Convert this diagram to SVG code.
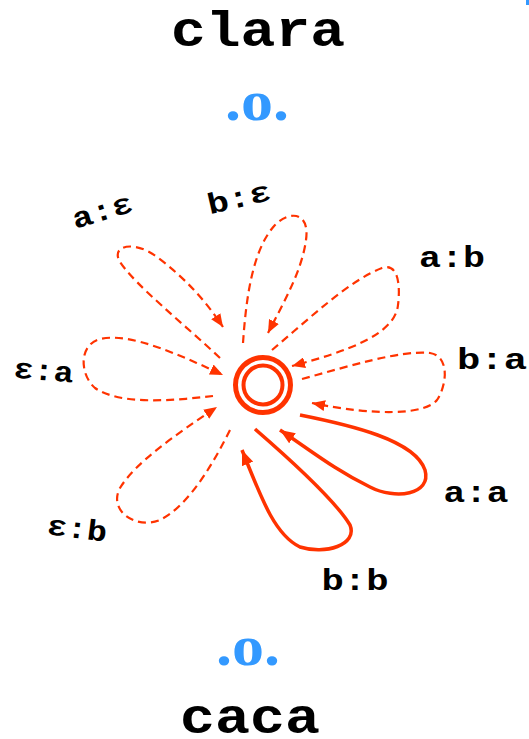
<svg xmlns="http://www.w3.org/2000/svg" width="529" height="739" viewBox="0 0 529 739">
  <style>
    .word { font-family: "Liberation Mono", "DejaVu Sans Mono", monospace; font-weight: bold; font-size: 50px; fill: #000; text-anchor: middle; }
    .op { font-family: "Liberation Serif", "DejaVu Serif", serif; font-weight: bold; font-size: 56px; fill: #3399ff; text-anchor: middle; }
    .lbl { font-family: "Liberation Mono", "DejaVu Sans Mono", monospace; font-weight: bold; font-size: 29px; fill: #000; text-anchor: middle; }
    .dash { fill: none; stroke: #ff3300; stroke-width: 2.2; stroke-dasharray: 8 5; marker-end: url(#arrow); }
    .solid { fill: none; stroke: #ff3300; stroke-width: 3.5; marker-end: url(#arrowBig); }
    .ring { fill: none; stroke: #ff3300; }
  </style>
  <defs>
    <marker id="arrow" markerUnits="userSpaceOnUse" markerWidth="13" markerHeight="11" refX="13" refY="5.5" orient="auto">
      <path d="M0,0 L13,5.5 L0,11 z" fill="#ff3300" stroke="none"/>
    </marker>
    <marker id="arrowBig" markerUnits="userSpaceOnUse" markerWidth="15" markerHeight="12" refX="15" refY="6" orient="auto">
      <path d="M0,0 L15,6 L0,12 z" fill="#ff3300" stroke="none"/>
    </marker>
  </defs>
  <rect x="0" y="0" width="529" height="739" fill="#ffffff"/>
  <rect x="526" y="0" width="3" height="5" fill="#3399ff"/>

  <g id="top-word">
    <text class="word" x="258" y="46" textLength="174" lengthAdjust="spacingAndGlyphs">clara</text>
  </g>
  <g id="top-op">
    <text class="op" x="257" y="120" textLength="64" lengthAdjust="spacingAndGlyphs">.o.</text>
  </g>

  <g id="connectors">
    <path id="e-a-eps" class="dash" d="M220,358 C185,325 135,285 120,262 C110,245 135,240 157,257 C185,278 205,300 223,327"/>
    <path id="e-b-eps" class="dash" d="M243,343 C246,300 252,250 275,225 C290,210 310,212 306,240 C302,270 285,300 268,333"/>
    <path id="e-a-b" class="dash" d="M272,350 C310,318 350,280 382,268 C400,262 400,290 398,305 C395,335 345,352 292,366"/>
    <path id="e-b-a" class="dash" d="M302,379 C350,366 400,350 430,353 C450,356 447,385 437,400 C425,415 375,416 312,403"/>
    <path id="e-eps-a" class="dash" d="M213,396 C170,401 120,405 95,388 C80,375 78,345 100,339 C130,332 180,355 223,375"/>
    <path id="e-eps-b" class="dash" d="M230,430 C215,460 190,505 160,520 C135,530 108,510 120,488 C135,463 175,435 217,407"/>
    <path id="e-a-a" class="solid" d="M300,415 C350,425 415,440 425,470 C432,495 395,500 370,487 C335,470 310,450 280,430"/>
    <path id="e-b-b" class="solid" d="M255,429 C285,455 335,500 350,525 C358,545 325,555 300,547 C275,535 262,500 242,450"/>
  </g>

  <g id="state">
    <circle class="ring" cx="263" cy="385" r="27.5" stroke-width="5"/>
    <circle class="ring" cx="263" cy="385" r="19.5" stroke-width="4"/>
  </g>

  <g id="labels">
    <text class="lbl" transform="translate(105,220) rotate(-17)" textLength="62" lengthAdjust="spacingAndGlyphs">a:ε</text>
    <text class="lbl" transform="translate(241,207) rotate(-13)" textLength="64" lengthAdjust="spacingAndGlyphs">b:ε</text>
    <text class="lbl" x="452" y="267" textLength="66" lengthAdjust="spacingAndGlyphs">a:b</text>
    <text class="lbl" x="492" y="369" textLength="70" lengthAdjust="spacingAndGlyphs">b:a</text>
    <text class="lbl" transform="translate(43,380) rotate(5)" textLength="60" lengthAdjust="spacingAndGlyphs">ε:a</text>
    <text class="lbl" transform="translate(76,538) rotate(7)" textLength="60" lengthAdjust="spacingAndGlyphs">ε:b</text>
    <text class="lbl" x="476" y="502" textLength="65" lengthAdjust="spacingAndGlyphs">a:a</text>
    <text class="lbl" x="355" y="590" textLength="67" lengthAdjust="spacingAndGlyphs">b:b</text>
  </g>

  <g id="bottom-op">
    <text class="op" x="248" y="665" textLength="64" lengthAdjust="spacingAndGlyphs">.o.</text>
  </g>
  <g id="bottom-word">
    <text class="word" x="250" y="733" textLength="140" lengthAdjust="spacingAndGlyphs">caca</text>
  </g>
</svg>
